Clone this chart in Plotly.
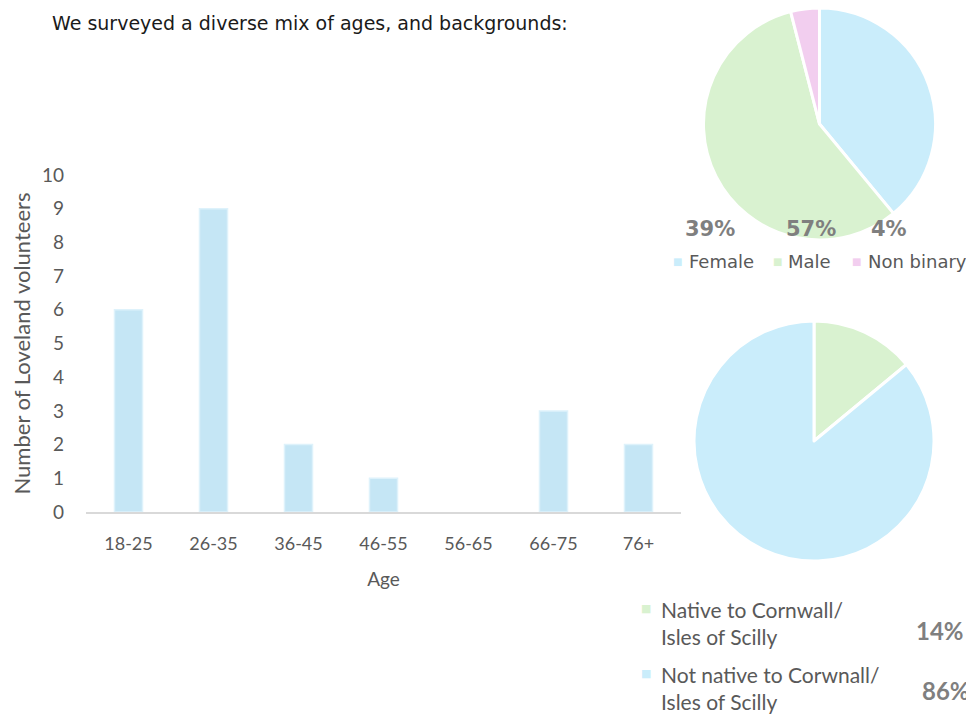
import plotly.graph_objects as go

# ---- data ----
age_groups = ["18-25", "26-35", "36-45", "46-55", "56-65", "66-75", "76+"]
volunteers = [6, 9, 2, 1, 0, 3, 2]

gender_labels = ["Female", "Male", "Non binary"]
gender_values = [39, 57, 4]

origin_labels = ["Native to Cornwall/<br>Isles of Scilly", "Not native to Corwnall/<br>Isles of Scilly"]
origin_values = [14, 86]

# page body adds an 8px offset; work in reference-pixel coordinates
OFF = 8
W, H = 974 - OFF, 715 - OFF
FONT = "Lato"
WIDE = "DejaVu Sans"
TXT = "#595959"
BLUE = "rgb(202,237,251)"
GREEN = "rgb(217,242,208)"
PINK = "rgb(242,206,239)"
gender_colors = [BLUE, GREEN, PINK]
origin_colors = [GREEN, BLUE]


def px(x):
    return min(1, max(0, (x - OFF) / W))


def py(y):
    return min(1, max(0, 1 - (y - OFF) / H))


fig = go.Figure()

fig.add_trace(go.Bar(
    x=age_groups, y=volunteers,
    marker=dict(color="rgb(197,230,245)",
                line=dict(color="rgb(222,242,251)", width=[1.5 if v > 0 else 0 for v in volunteers])),
    width=0.33, showlegend=False,
))

fig.add_trace(go.Pie(
    labels=gender_labels, values=gender_values,
    marker=dict(colors=gender_colors, line=dict(color="white", width=3)),
    direction="clockwise", sort=False, rotation=0,
    textinfo="none", hoverinfo="label+percent", showlegend=False,
    domain=dict(x=[px(703), px(936)], y=[py(240), py(8)]),
))

fig.add_trace(go.Pie(
    labels=origin_labels, values=origin_values,
    marker=dict(colors=origin_colors, line=dict(color="white", width=3)),
    direction="clockwise", sort=False, rotation=0,
    textinfo="none", hoverinfo="label+percent", showlegend=False,
    domain=dict(x=[px(694), px(934)], y=[py(561), py(321)]),
))


def ann(text, x, y, size, color, family, xanchor="center", yanchor="middle", align="left"):
    return dict(text=text, x=px(x), y=py(y), xref="paper", yref="paper",
                xanchor=xanchor, yanchor=yanchor, align=align, showarrow=False,
                font=dict(family=family, size=size, color=color))


annotations = [
    ann("We surveyed a diverse mix of ages, and backgrounds:", 50, 23, 19, "#1a1a1a", WIDE, xanchor="left"),
]

# gender percentages
g_total = sum(gender_values)
g_pos = [(710, 229), (811, 229), (889, 229)]
for v, (x, y) in zip(gender_values, g_pos):
    annotations.append(ann(f"<b>{round(v / g_total * 100)}%</b>", x, y, 21, "#7f7f7f", WIDE))

# gender legend
g_marker_x = [677, 777, 856]
g_text_x = [687, 786, 866]
for lab, col, mx, tx in zip(gender_labels, gender_colors, g_marker_x, g_text_x):
    annotations.append(ann("■", mx, 261, 10, col, WIDE))
    annotations.append(ann(lab, tx, 262, 18, TXT, WIDE, xanchor="left"))

# origin percentages
o_total = sum(origin_values)
o_pos = [(940, 630), (946, 690)]
for v, (x, y) in zip(origin_values, o_pos):
    annotations.append(ann(f"<b>{round(v / o_total * 100)}%</b>", x, y, 24, "#7f7f7f", FONT))

# origin legend
o_marker_y = [608, 673]
o_text_y = [623, 688]
for lab, col, my, ty in zip(origin_labels, origin_colors, o_marker_y, o_text_y):
    annotations.append(ann("■", 646, my, 11, col, WIDE))
    annotations.append(ann(lab, 659, ty, 21, TXT, FONT, xanchor="left"))

fig.update_layout(
    width=W, height=H,
    margin=dict(l=0, r=0, t=0, b=0, autoexpand=False),
    paper_bgcolor="white", plot_bgcolor="white",
    font=dict(family=FONT, color=TXT),
    xaxis=dict(domain=[px(86), px(681)], showgrid=False, zeroline=False,
               showline=True, linecolor="#d9d9d9", linewidth=2,
               tickfont=dict(size=18, color=TXT), ticklabelstandoff=14,
               title=dict(text="Age", font=dict(size=19, color=TXT), standoff=20)),
    yaxis=dict(domain=[py(512), py(175)], range=[0, 10], dtick=1, showgrid=False,
               zeroline=False, showline=False,
               tickfont=dict(size=19, color=TXT), ticklabelstandoff=21,
               title=dict(text="Number of Loveland volunteers", font=dict(size=22, color=TXT), standoff=7)),
    annotations=annotations,
)

fig.write_html("out.html")
